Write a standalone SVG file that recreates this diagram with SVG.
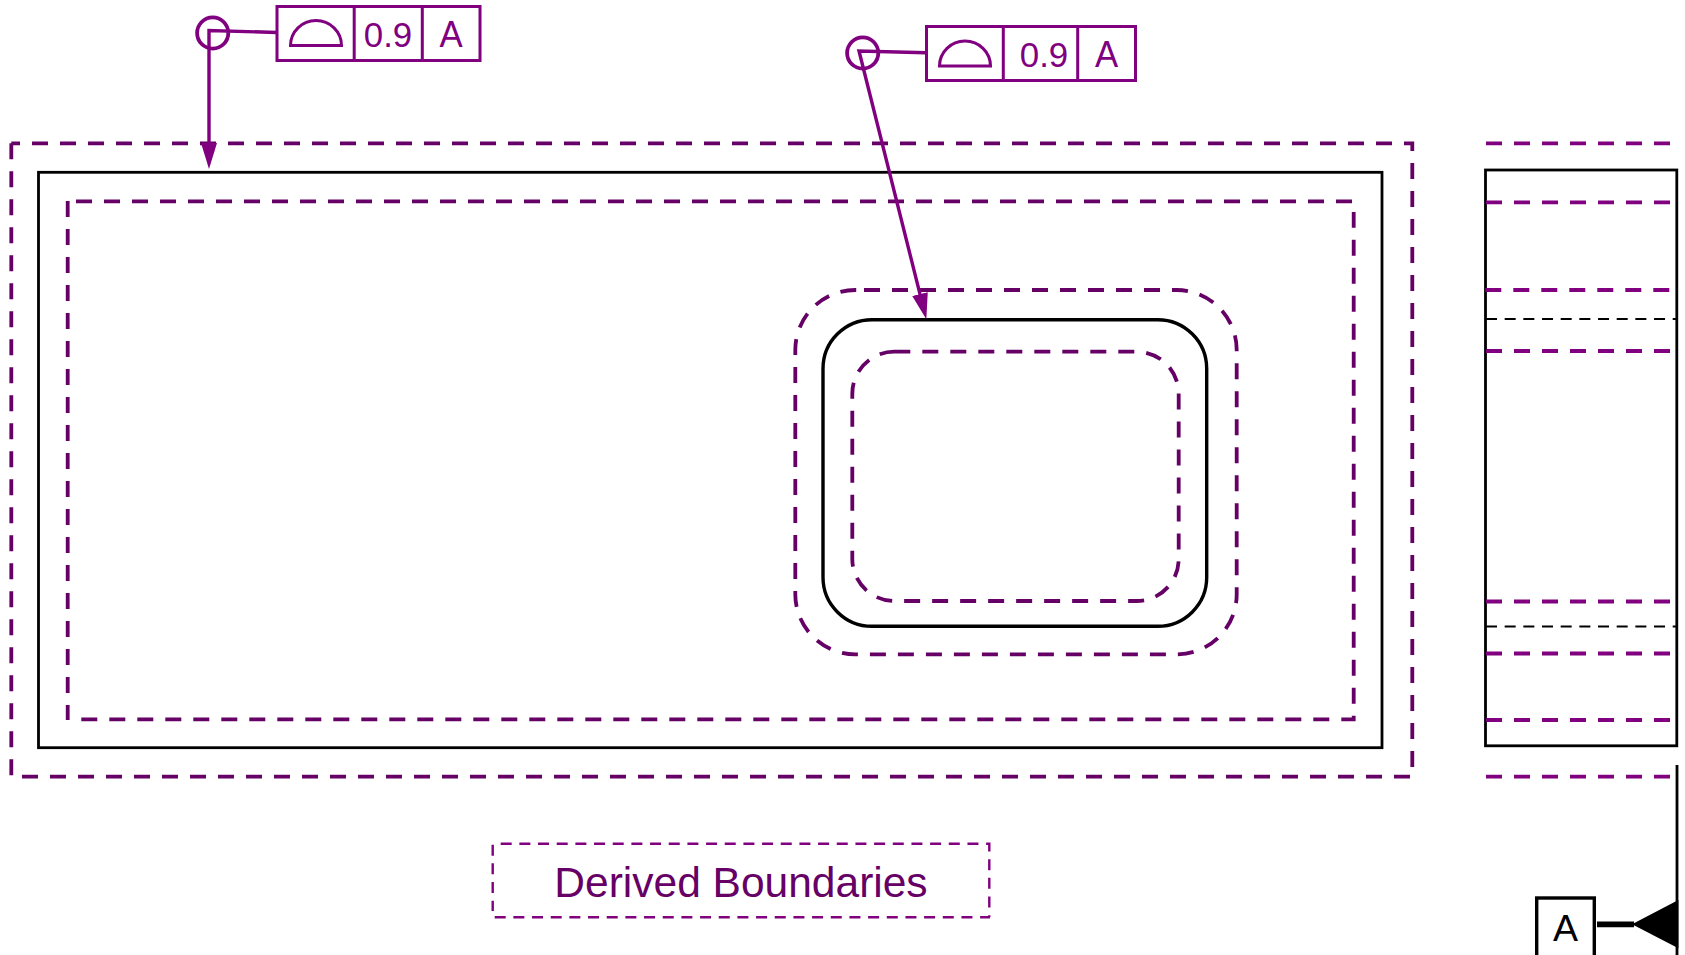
<svg xmlns="http://www.w3.org/2000/svg" width="1685" height="955" viewBox="0 0 1685 955">
<style>
text{font-family:"Liberation Sans",Arial,sans-serif}
.fcf{fill:#fff;stroke:#800080;stroke-width:3}
.lead{fill:none;stroke:#800080;stroke-width:3.4}
.fcft{fill:#800080;font-size:37px;text-anchor:middle}
.der{fill:none;stroke:#660066;stroke-width:3.8;stroke-dasharray:16 12}
.side{stroke:#800080;stroke-width:3.8;stroke-dasharray:16 12;fill:none}
.hid{stroke:#000;stroke-width:2.2;stroke-dasharray:11 7.67;fill:none}
.part{fill:none;stroke:#000;stroke-width:2.8}
.ring{fill:none;stroke:#800080;stroke-width:3.8}
.leg{fill:none;stroke:#800080;stroke-width:2.4;stroke-dasharray:11 7.67}
</style>
<defs>
<marker id="arr" markerUnits="userSpaceOnUse" markerWidth="27" markerHeight="17" refX="7" refY="8" orient="auto"><path d="M0 0L26 8L0 16Z" fill="#800080"/></marker>
</defs>
<g id="front-view">
<path class="der" stroke-dashoffset="7.3" d="M11.3 143.3H1412.3V767"/>
<path class="der" d="M11.3 143.3V776"/>
<path class="der" d="M22 776.7H1411"/>
<rect class="part" x="38.5" y="172.3" width="1343.5" height="575.4"/>
<path class="der" d="M76 201.3H1353.7"/>
<path class="der" d="M67.7 201V720"/>
<path class="der" d="M81.3 719.3H1353.7V212"/>
<path class="der" d="M864 290H1176.7A60 60 0 0 1 1236.7 350V594.3A60 60 0 0 1 1176.7 654.3H855.3A60 60 0 0 1 795.3 594.3V350A60 60 0 0 1 855.3 290H864"/>
<rect x="823" y="319.7" width="383.7" height="306.6" rx="49" fill="none" stroke="#000" stroke-width="3.4"/>
<path class="der" d="M894.3 351.7H1136.7A42 42 0 0 1 1178.7 393.7V559A42 42 0 0 1 1136.7 601H894.3A42 42 0 0 1 852.3 559V393.7A42 42 0 0 1 894.3 351.7"/>
</g>
<g id="side-view">
<rect class="part" x="1485.5" y="170" width="191.3" height="575.8"/>
<path class="side" d="M1486 143.3H1671M1486 202.3H1671M1485.3 290H1671M1486 351H1671M1486 601.5H1671M1486 653.5H1671M1486 720H1671M1486 776.7H1671"/>
<path class="hid" d="M1486 319H1677M1486 626.5H1677"/>
</g>
<g id="connectors">
<path class="lead" d="M277 32.5L209 30.5V150" marker-end="url(#arr)"/>
<path class="lead" d="M926 52.7L859 51L921.7 300.9" marker-end="url(#arr)"/>
</g>
<g id="fcf-1">
<circle class="ring" cx="212.7" cy="33" r="15.6"/>
<rect class="fcf" x="277" y="6.5" width="203" height="54"/>
<path class="fcf" d="M354.2 6.5V60.5M422.3 6.5V60.5"/>
<path class="fcf" d="M290.5 45.5A25.5 25 0 0 1 341.5 45.5Z"/>
<text class="fcft" font-size="36" style="font-size:36px" transform="translate(388 46.5) scale(.97 1)">0.9</text>
<text class="fcft" transform="translate(451 46.5) scale(.94 1)">A</text>
</g>
<g id="fcf-2">
<circle class="ring" cx="862.7" cy="53" r="15.6"/>
<rect class="fcf" x="926.5" y="26.5" width="209" height="54"/>
<path class="fcf" d="M1003.3 26.5V80.5M1077.7 26.5V80.5"/>
<path class="fcf" d="M939.5 66A25.5 25 0 0 1 990.5 66Z"/>
<text class="fcft" style="font-size:36px" transform="translate(1044 66.5) scale(.97 1)">0.9</text>
<text class="fcft" transform="translate(1106.7 66.5) scale(.94 1)">A</text>
</g>
<g id="datum-a">
<path d="M1677 765V955" fill="none" stroke="#000" stroke-width="2.8"/>
<path d="M1678.4 900V948.3L1632 924.3Z" fill="#000"/>
<path d="M1597 924.3H1634" stroke="#000" stroke-width="5.7"/>
<rect x="1536.7" y="898" width="57.6" height="70" fill="#fff" stroke="#000" stroke-width="3.4"/>
<text x="1565.5" y="941" font-size="37.5" text-anchor="middle" fill="#000">A</text>
</g>
<g id="legend">
<path class="leg" d="M500.7 843.7H989.3V917"/>
<path class="leg" d="M492.7 844.7V911"/>
<path class="leg" d="M494.7 917.3H990"/>
<text x="741" y="896.7" font-size="42.5" text-anchor="middle" fill="#660066">Derived Boundaries</text>
</g>
</svg>
